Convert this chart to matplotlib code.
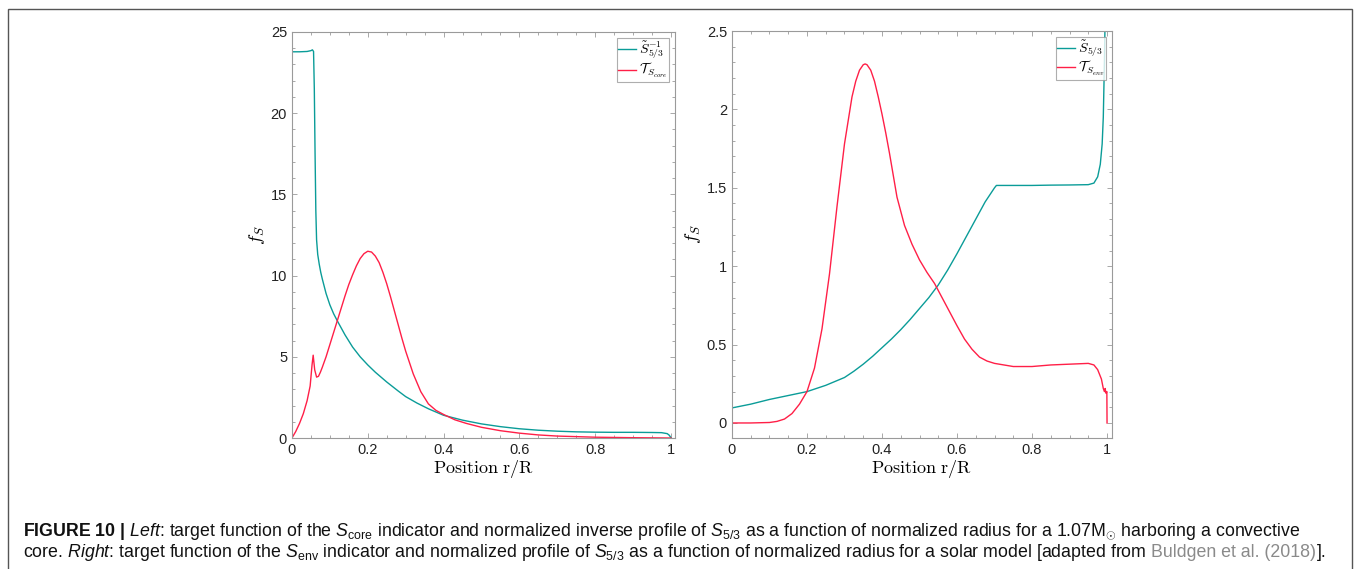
import numpy as np
import matplotlib
matplotlib.use("Agg")
import matplotlib.pyplot as plt
from matplotlib.patches import Rectangle
from matplotlib.ticker import MultipleLocator, FuncFormatter

plt.rcParams['font.family'] = ['Liberation Sans', 'DejaVu Sans']
plt.rcParams['mathtext.fontset'] = 'cm'
plt.rcParams['mathtext.rm'] = 'Liberation Sans'
plt.rcParams['mathtext.it'] = 'Liberation Sans:italic'
plt.rcParams['mathtext.bf'] = 'Liberation Sans:bold'

# left panel: convective core model
x_core_s = [0, 0.02, 0.04, 0.05, 0.054, 0.057, 0.059, 0.061, 0.063, 0.065, 0.068, 0.072,
            0.076, 0.08, 0.09, 0.1, 0.11, 0.12, 0.14, 0.16, 0.18, 0.2, 0.22, 0.25, 0.28,
            0.3, 0.33, 0.36, 0.4, 0.45, 0.5, 0.55, 0.6, 0.65, 0.7, 0.75, 0.8, 0.85, 0.9,
            0.95, 0.975, 0.99, 0.995, 1.0]
s_inv = [23.78, 23.78, 23.8, 23.85, 23.9, 23.8, 21.5, 17.5, 14.0, 12.2, 11.3, 10.7,
         10.2, 9.8, 8.9, 8.2, 7.65, 7.2, 6.35, 5.6, 5.0, 4.5, 4.05, 3.45, 2.9,
         2.55, 2.15, 1.8, 1.4, 1.1, 0.87, 0.7, 0.57, 0.48, 0.42, 0.38, 0.36, 0.35, 0.35,
         0.34, 0.33, 0.27, 0.18, 0.02]

x_core_t = [0, 0.01, 0.02, 0.03, 0.04, 0.048, 0.053, 0.056, 0.06, 0.065, 0.07, 0.075,
            0.08, 0.09, 0.1, 0.11, 0.12, 0.13, 0.14, 0.15, 0.16, 0.17, 0.18, 0.19, 0.2,
            0.21, 0.22, 0.23, 0.24, 0.25, 0.26, 0.27, 0.28, 0.29, 0.3, 0.32, 0.34, 0.36,
            0.38, 0.4, 0.43, 0.46, 0.5, 0.55, 0.6, 0.65, 0.7, 0.8, 0.9, 1.0]
t_core = [0, 0.4, 0.9, 1.5, 2.3, 3.2, 4.5, 5.1, 4.2, 3.75, 3.8, 4.05,
          4.35, 5.0, 5.75, 6.5, 7.25, 8.0, 8.75, 9.45, 10.05, 10.6, 11.05, 11.35, 11.5,
          11.45, 11.2, 10.8, 10.2, 9.5, 8.7, 7.85, 7.0, 6.15, 5.35, 3.95, 2.85, 2.1,
          1.7, 1.45, 1.12, 0.9, 0.66, 0.45, 0.3, 0.19, 0.12, 0.05, 0.02, 0.0]

# right panel: solar model
x_env_s = [0, 0.05, 0.1, 0.15, 0.2, 0.25, 0.3, 0.325, 0.35, 0.375, 0.4, 0.425, 0.45,
           0.475, 0.5, 0.525, 0.55, 0.575, 0.6, 0.625, 0.65, 0.675, 0.7, 0.705, 0.75,
           0.8, 0.85, 0.9, 0.95, 0.965, 0.975, 0.982, 0.987, 0.99, 0.993, 0.995, 0.997]
s_env = [0.096, 0.12, 0.15, 0.175, 0.2, 0.24, 0.29, 0.33, 0.375, 0.425, 0.48, 0.535, 0.595,
         0.66, 0.73, 0.8, 0.88, 0.975, 1.08, 1.19, 1.3, 1.41, 1.5, 1.515, 1.515,
         1.515, 1.517, 1.518, 1.52, 1.53, 1.57, 1.65, 1.78, 1.95, 2.3, 2.6, 3.0]

x_env_t = [0, 0.05, 0.1, 0.12, 0.14, 0.16, 0.18, 0.2, 0.22, 0.24, 0.26, 0.28, 0.3, 0.32,
           0.33, 0.34, 0.35, 0.355, 0.36, 0.37, 0.38, 0.39, 0.4, 0.41, 0.42, 0.43, 0.44,
           0.46, 0.48, 0.5, 0.52, 0.54, 0.56, 0.58, 0.6, 0.62, 0.64, 0.66, 0.68, 0.7,
           0.75, 0.8, 0.85, 0.9, 0.95, 0.965, 0.975, 0.985, 0.99, 0.993, 0.995, 0.997,
           0.9995, 1.0]
t_env = [0, 0, 0.003, 0.01, 0.025, 0.06, 0.12, 0.2, 0.35, 0.6, 0.95, 1.38, 1.78, 2.08,
         2.18, 2.25, 2.285, 2.29, 2.285, 2.25, 2.18, 2.08, 1.97, 1.85, 1.72, 1.58, 1.44,
         1.26, 1.14, 1.04, 0.96, 0.89, 0.8, 0.71, 0.62, 0.535, 0.47, 0.42, 0.395, 0.38,
         0.36, 0.36, 0.37, 0.375, 0.38, 0.37, 0.34, 0.28, 0.22, 0.2, 0.22, 0.19, 0.2, 0.0]

teal = '#0a9c98'
red = '#ff1f47'
frame = '#9a9a9a'

fig = plt.figure(figsize=(13.56, 5.69), dpi=100)
ax1 = fig.add_axes([0.2153, 0.2302, 0.2825, 0.7136])
ax2 = fig.add_axes([0.5398, 0.2302, 0.2802, 0.7153])


def style(ax, xmax, ylim, ymaj, ymin):
    ax.set_xlim(0, xmax)
    ax.set_ylim(*ylim)
    ax.xaxis.set_major_locator(MultipleLocator(0.2))
    ax.xaxis.set_minor_locator(MultipleLocator(0.05))
    ax.yaxis.set_major_locator(MultipleLocator(ymaj))
    ax.yaxis.set_minor_locator(MultipleLocator(ymin))
    ax.xaxis.set_major_formatter(FuncFormatter(lambda v, p: f'{v:g}'))
    ax.yaxis.set_major_formatter(FuncFormatter(lambda v, p: f'{v:g}'))
    ax.tick_params(which='both', direction='in', top=True, right=True,
                   color=frame, labelsize=10.5, labelcolor='#222222')
    ax.tick_params(which='major', length=3.5, width=0.6)
    ax.tick_params(which='minor', length=2.5, width=0.6)
    for sp in ax.spines.values():
        sp.set_color(frame)
        sp.set_linewidth(0.8)
    ax.set_xlabel(r'$\mathrm{Position\ r/R}$', fontsize=13, labelpad=1)
    ax.set_ylabel(r'$f_S$', fontsize=13.5, labelpad=3)


ax1.plot(x_core_s, s_inv, color=teal, lw=1.0, label=r'$\tilde{S}^{-1}_{5/3}$')
ax1.plot(x_core_t, t_core, color=red, lw=1.0, label=r'$\mathcal{T}_{S_{core}}$')
style(ax1, 1.0106, (0, 25), 5, 1)

ax2.plot(x_env_s, s_env, color=teal, lw=1.0, label=r'$\tilde{S}_{5/3}$')
ax2.plot(x_env_t, t_env, color=red, lw=1.0, label=r'$\mathcal{T}_{S_{env}}$')
style(ax2, 1.013, (-0.096, 2.5), 0.5, 0.1)

for ax in (ax1, ax2):
    leg = ax.legend(loc='upper right', fontsize=10, fancybox=False, handlelength=1.3,
                    borderpad=0.1, labelspacing=0.0, handletextpad=0.2,
                    borderaxespad=0.45)
    leg.get_frame().set_edgecolor(frame)
    leg.get_frame().set_linewidth(0.8)

# outer border of the figure panel
fig.patches.append(Rectangle((8 / 1356, -0.1), 1344 / 1356, 1.084, transform=fig.transFigure,
                             fill=False, edgecolor='#555555', lw=1.0))

# caption
fs = 12.75
cap_kw = dict(fontsize=fs, family='Liberation Sans', math_fontfamily='custom',
              color='#111111', va='baseline', ha='left')
line1 = (r"$\bf{FIGURE\ 10\ |}$ $\it{Left}$: target function of the $S_{\rm core}$ indicator "
         r"and normalized inverse profile of $S_{5/3}$ as a function of normalized radius "
         r"for a 1.07M$_{\odot}$ harboring a convective")
line2a = (r"core. $\it{Right}$: target function of the $S_{\rm env}$ indicator and normalized "
          r"profile of $S_{5/3}$ as a function of normalized radius for a solar model [adapted from")
fig.text(23 / 1356, 1 - 536 / 569, line1, **cap_kw)
t2 = fig.text(23 / 1356, 1 - 557 / 569, line2a, **cap_kw)

fig.canvas.draw()
r = fig.canvas.get_renderer()
x1 = t2.get_window_extent(r).x1 + 4.5
t3 = fig.text(x1 / 1356, 1 - 557 / 569, 'Buldgen et al. (2018)', fontsize=fs,
              color='#8a8a8a', va='baseline', ha='left')
x2 = t3.get_window_extent(r).x1 + 0.5
fig.text(x2 / 1356, 1 - 557 / 569, '].', fontsize=fs, color='#111111', va='baseline', ha='left')

fig.savefig('out.png', dpi=100)
